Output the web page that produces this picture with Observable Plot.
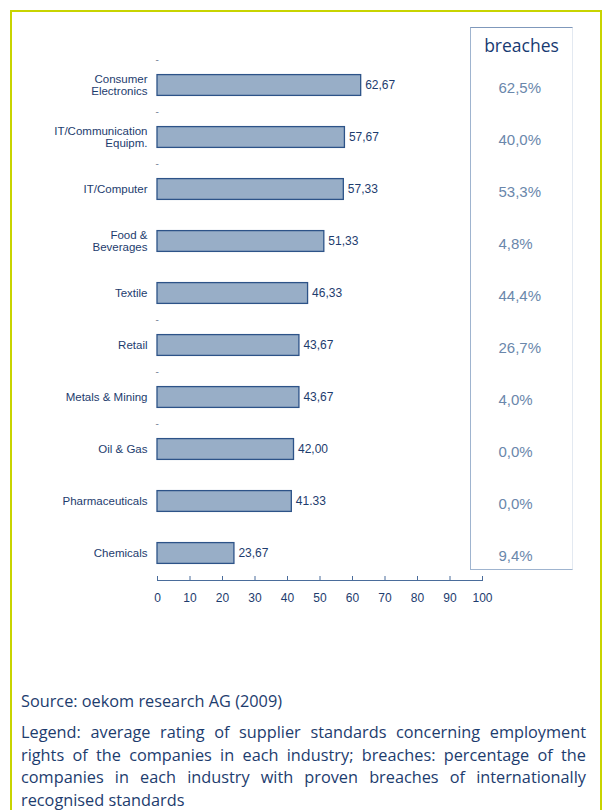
<!DOCTYPE html>
<html>
<head>
<meta charset="utf-8">
<script src="https://cdn.jsdelivr.net/npm/d3@7"></script>
<script src="https://cdn.jsdelivr.net/npm/@observablehq/plot@0.6"></script>
<style>
  html, body { margin: 0; padding: 0; background: #fff; }
  #wrap { position: relative; width: 608px; height: 810px; overflow: hidden; }
  #frame { position: absolute; left: 10px; top: 10px; width: 588px; height: 820px;
           border-left: 2.5px solid #c8d400; border-top: 2.5px solid #c8d400; border-right: 2.5px solid #c8d400; }
  #box { position: absolute; left: 470px; top: 27px; width: 103px; height: 543px;
         border-left: 1px solid #9fb4cf; border-top: 1.5px solid #7f98bb; border-bottom: 1px solid #9fb4cf;
         border-right: 1px solid #e3e9f1; box-sizing: border-box; }
  #boxtitle { position: absolute; left: 470px; top: 33px; width: 103px; text-align: center;
              font-family: "Open Sans", sans-serif; font-size: 17.5px; font-weight: 500; color: #173a72; }
  #chart { position: absolute; left: 0; top: 0; }
  #foot { position: absolute; left: 21px; top: 689px; width: 565px;
          font-family: "Open Sans", sans-serif; font-size: 16.3px; color: #1d3c6e; }
  #foot .src { line-height: 24px; margin-bottom: 8px; }
  #foot .ln { line-height: 22.5px; text-align: justify; text-align-last: justify; white-space: nowrap; }
  #foot .ln.last { text-align-last: left; }
</style>
</head>
<body>
<div id="wrap">
  <div id="frame"></div>
  <div id="box"></div>
  <div id="boxtitle">breaches</div>
  <div id="chart"></div>
  <div id="foot">
    <div class="src">Source: oekom research AG (2009)</div>
    <div class="ln">Legend: average rating of supplier standards concerning employment</div>
    <div class="ln">rights of the companies in each industry; breaches: percentage of the</div>
    <div class="ln">companies in each industry with proven breaches of internationally</div>
    <div class="ln last">recognised standards</div>
  </div>
</div>
<script>
const categories = ["Consumer Electronics", "IT/Communication Equipm.", "IT/Computer", "Food & Beverages", "Textile", "Retail", "Metals & Mining", "Oil & Gas", "Pharmaceuticals", "Chemicals"];
const categoryLabels = ["Consumer\nElectronics", "IT/Communication\nEquipm.", "IT/Computer", "Food &\nBeverages", "Textile", "Retail", "Metals & Mining", "Oil & Gas", "Pharmaceuticals", "Chemicals"];
const ratings = [62.67, 57.67, 57.33, 51.33, 46.33, 43.67, 43.67, 42.00, 41.33, 23.67];
const ratingLabels = ["62,67", "57,67", "57,33", "51,33", "46,33", "43,67", "43,67", "42,00", "41.33", "23,67"];
const breaches = ["62,5%", "40,0%", "53,3%", "4,8%", "44,4%", "26,7%", "4,0%", "0,0%", "0,0%", "9,4%"];
const xTicks = [0, 10, 20, 30, 40, 50, 60, 70, 80, 90, 100];
const dashAbove = ["Consumer Electronics", "IT/Communication Equipm.", "IT/Computer", "Retail", "Metals & Mining", "Oil & Gas"];

const data = categories.map((c, i) => ({cat: c, label: categoryLabels[i], value: ratings[i], vlabel: ratingLabels[i], breach: breaches[i]}));
const labelOf = new Map(data.map(d => [d.cat, d.label]));

const navy = "#1d3c6e";
const chart = Plot.plot({
  width: 608,
  height: 620,
  marginLeft: 157,
  marginRight: 126,
  marginTop: 57,
  marginBottom: 40,
  style: {fontFamily: "'Liberation Sans', Arial, sans-serif", background: "transparent", overflow: "visible"},
  x: {domain: [0, 100], label: null},
  y: {domain: categories, padding: 0, label: null},
  marks: [
    Plot.frame({anchor: "bottom", stroke: "#4a6c9b", strokeWidth: 1}),
    Plot.axisX({ticks: xTicks, tickSize: -4, stroke: "#4a6c9b", tickFormat: () => "", label: null}),
    Plot.axisX({ticks: xTicks, tickSize: 0, tickPadding: 13, fontSize: 12, fill: navy, letterSpacing: 0.5, tickFormat: d => String(d), label: null}),
    Plot.axisY({tickSize: 0, tickPadding: 10, fontSize: 11.5, fill: navy, letterSpacing: 0.6, lineHeight: 1.05, tickFormat: d => labelOf.get(d), label: null}),
    Plot.text(dashAbove, {y: d => d, text: () => "-", frameAnchor: "left", dx: -2, dy: -26, fontSize: 10, fill: "#7d879a"}),
    Plot.barX(data, {y: "cat", x: "value", fill: "#98aec7", stroke: "#2d5388", strokeWidth: 1.3, insetTop: 15.6, insetBottom: 15.6}),
    Plot.text(data, {y: "cat", x: "value", text: "vlabel", textAnchor: "start", dx: 4, fontSize: 12, fill: navy, letterSpacing: 0.7}),
    Plot.text(data, {y: "cat", text: "breach", frameAnchor: "right", dx: 16, dy: 3, textAnchor: "start", fontSize: 15, fill: "#6a87ab", letterSpacing: 1})
  ]
});
document.getElementById("chart").appendChild(chart);
</script>
</body>
</html>
